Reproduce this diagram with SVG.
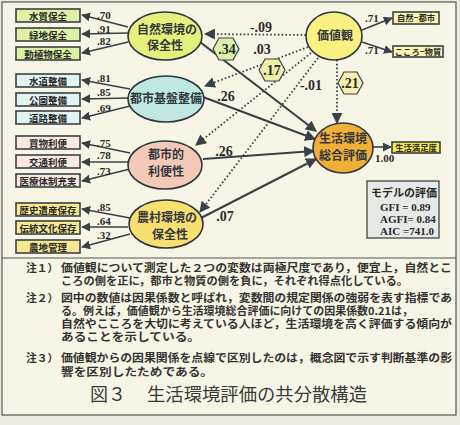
<svg xmlns="http://www.w3.org/2000/svg" width="460" height="425" viewBox="0 0 460 425">
<defs>
<marker id="ah" viewBox="0 0 10 10" refX="9" refY="5" markerWidth="9" markerHeight="9" markerUnits="userSpaceOnUse" orient="auto"><path d="M0,0 L10,5 L0,10 z" fill="#3a4048"/></marker>
<marker id="ahb" viewBox="0 0 10 10" refX="9" refY="5" markerWidth="11" markerHeight="11" markerUnits="userSpaceOnUse" orient="auto"><path d="M0,0 L10,5 L0,10 z" fill="#3a4048"/></marker>
</defs>
<style>
.bx{stroke:#3a4048;stroke-width:1.6}
.bt{font-family:"Noto Sans CJK JP",sans-serif;font-weight:bold;font-size:9.5px;fill:#2a2a2a;text-anchor:middle}
.rt{font-family:"Noto Sans CJK JP",sans-serif;font-weight:bold;font-size:8.3px;fill:#2a2a2a;text-anchor:middle}
.el{stroke:#2e3440;stroke-width:1.6}
.et{font-family:"Noto Sans CJK JP",sans-serif;font-weight:bold;font-size:12px;fill:#333840;text-anchor:middle}
.sl{stroke:#3a4048;stroke-width:1.6;fill:none;marker-end:url(#ah)}
.sb{stroke:#3a4048;stroke-width:2.2;fill:none;marker-end:url(#ahb)}
.dl{stroke:#3a4048;stroke-width:1.8;stroke-dasharray:1.6 2.2;fill:none;marker-end:url(#ahb)}
.n{font-family:"Liberation Serif",serif;font-weight:bold;font-size:11px;fill:#2a2a2a}
.nb{font-family:"Liberation Serif",serif;font-weight:bold;font-size:14px;fill:#2a2a2a;text-anchor:middle}
.hx{stroke:#3a4048;stroke-width:1.2}
.nt{font-family:"Noto Sans CJK JP",sans-serif;font-weight:bold;font-size:10.8px;fill:#333}
.mt{font-family:"Liberation Serif",serif;font-weight:bold;font-size:11px;fill:#2a2a2a}
</style>
<rect x="0" y="0" width="460" height="425" fill="#eeece0"/>
<rect x="2" y="2" width="454" height="413" fill="#f7f5e6" stroke="#555" stroke-width="1.2"/>
<line x1="2" y1="258" x2="456" y2="258" stroke="#555" stroke-width="1.2"/>

<g id="connectors">
<path class="sl" d="M128,27 L82,15"/>
<path class="sl" d="M128,33 L82,34"/>
<path class="sl" d="M128,42 L82,53"/>
<path class="sl" d="M130,89 L82,80"/>
<path class="sl" d="M128,98 L82,99"/>
<path class="sl" d="M130,106 L82,118"/>
<path class="sl" d="M130,153 L82,143"/>
<path class="sl" d="M128,162 L82,162"/>
<path class="sl" d="M130,169 L82,181"/>
<path class="sl" d="M130,218 L82,209"/>
<path class="sl" d="M128,227 L82,227"/>
<path class="sl" d="M130,234 L82,247"/>
<path class="sl" d="M362,30 L392,18"/>
<path class="sl" d="M362,42 L392,52"/>
<path class="sl" d="M373,147 L391,147"/>
<path class="sb" d="M200,42 L316,131"/>
<path class="sb" d="M203,97 L315,139"/>
<path class="sb" d="M203,159 L314,151"/>
<path class="sb" d="M201,218 L316,159"/>
<path class="dl" d="M306,35 L205,34"/>
<path class="dl" d="M308,47 L205,86"/>
<path class="dl" d="M311,53 L196,145"/>
<path class="dl" d="M318,58 L200,212"/>
<path class="dl" d="M337,60 L337,123"/>
<text class="n" x="97" y="19">.70</text>
<text class="n" x="97" y="33">.91</text>
<text class="n" x="97" y="45">.82</text>
<text class="n" x="97" y="82">.81</text>
<text class="n" x="97" y="96">.85</text>
<text class="n" x="97" y="112">.69</text>
<text class="n" x="97" y="147">.75</text>
<text class="n" x="97" y="159">.78</text>
<text class="n" x="97" y="175">.73</text>
<text class="n" x="97" y="211">.85</text>
<text class="n" x="97" y="225">.64</text>
<text class="n" x="97" y="239">.32</text>
<text class="n" x="365" y="22">.71</text>
<text class="n" x="365" y="54">.71</text>
<text class="n" x="375" y="162">1.00</text>
<text class="nb" x="261" y="32">-.09</text>
<text class="nb" x="262" y="54">.03</text>
<text class="nb" x="311" y="90">-.01</text>
<text class="nb" x="226" y="101">.26</text>
<text class="nb" x="224" y="156">.26</text>
<text class="nb" x="225" y="221">.07</text>
</g>

<g id="hex34"><polygon class="hx" fill="#dcefa8" points="213,49 219,38 233,38 239,49 233,60 219,60"/><text class="nb" x="227" y="54">.34</text></g>
<g id="hex17"><polygon class="hx" fill="#eef0a8" points="259,70 265,59 279,59 285,70 279,81 265,81"/><text class="nb" x="272" y="75">.17</text></g>
<g id="hex21"><polygon class="hx" fill="#f8f0b0" points="338,83 344,72 357,72 363,83 357,94 344,94"/><text class="nb" x="350" y="88">.21</text></g>

<g id="b1"><rect class="bx" x="16" y="9" width="64" height="13" fill="#def0a4"/><text class="bt" x="48" y="19.5">水質保全</text></g>
<g id="b2"><rect class="bx" x="16" y="28" width="64" height="13" fill="#def0a4"/><text class="bt" x="48" y="38.5">緑地保全</text></g>
<g id="b3"><rect class="bx" x="16" y="47" width="64" height="13" fill="#def0a4"/><text class="bt" x="48" y="57.5">動植物保全</text></g>
<g id="b4"><rect class="bx" x="16" y="74" width="64" height="13" fill="#e2f4f2"/><text class="bt" x="48" y="84.5">水道整備</text></g>
<g id="b5"><rect class="bx" x="16" y="93" width="64" height="13" fill="#e2f4f2"/><text class="bt" x="48" y="103.5">公園整備</text></g>
<g id="b6"><rect class="bx" x="16" y="111" width="64" height="13" fill="#e2f4f2"/><text class="bt" x="48" y="121.5">道路整備</text></g>
<g id="b7"><rect class="bx" x="16" y="136" width="64" height="13" fill="#fbe8e0"/><text class="bt" x="48" y="146.5">買物利便</text></g>
<g id="b8"><rect class="bx" x="16" y="155" width="64" height="13" fill="#fbe8e0"/><text class="bt" x="48" y="165.5">交通利便</text></g>
<g id="b9"><rect class="bx" x="16" y="174" width="64" height="13" fill="#fbe8e0"/><text class="bt" x="48" y="184.5">医療体制充実</text></g>
<g id="b10"><rect class="bx" x="16" y="203" width="64" height="13" fill="#f8e890"/><text class="bt" x="48" y="213.5">歴史遺産保存</text></g>
<g id="b11"><rect class="bx" x="16" y="221" width="64" height="13" fill="#f8e890"/><text class="bt" x="48" y="231.5">伝統文化保存</text></g>
<g id="b12"><rect class="bx" x="16" y="240" width="64" height="13" fill="#f8e890"/><text class="bt" x="48" y="250.5">農地管理</text></g>
<g id="r1"><rect class="bx" x="393" y="12" width="46" height="12" fill="#fdf7b0"/><text class="rt" x="416" y="21">自然−都市</text></g>
<g id="r2"><rect class="bx" x="393" y="46" width="50" height="11" fill="#fdf7b0"/><text class="rt" x="418" y="54.8">こころ−物質</text></g>
<g id="r3"><rect class="bx" x="392" y="142" width="48" height="11" fill="#f6e840"/><text class="rt" x="416" y="150.8">生活満足度</text></g>

<g id="e1"><ellipse class="el" cx="165" cy="36" rx="37" ry="24" fill="#e6f07c"/><text class="et" x="167" y="34">自然環境の</text><text class="et" x="165" y="50">保全性</text></g>
<g id="e2"><ellipse class="el" cx="166" cy="99" rx="38" ry="23" fill="#bfe8e0"/><text class="et" x="166" y="103">都市基盤整備</text></g>
<g id="e3"><ellipse class="el" cx="165" cy="165" rx="37" ry="24" fill="#f5c9b8"/><text class="et" x="166" y="159">都市的</text><text class="et" x="166" y="176">利便性</text></g>
<g id="e4"><ellipse class="el" cx="166" cy="224" rx="37" ry="24" fill="#f8e070"/><text class="et" x="167" y="222">農村環境の</text><text class="et" x="170" y="239">保全性</text></g>
<g id="e5"><ellipse class="el" cx="334" cy="36" rx="28" ry="24" fill="#f8f080"/><text class="et" x="335" y="40">価値観</text></g>
<g id="e6"><ellipse class="el" cx="343" cy="148" rx="30" ry="25" fill="#f0b038"/><text class="et" x="343" y="143" fill="#5a3a10">生活環境</text><text class="et" x="343" y="160" fill="#5a3a10">総合評価</text></g>

<g id="model"><rect x="367" y="181" width="72" height="57" fill="#e6eae6" stroke="#444" stroke-width="1.3"/>
<text x="371" y="197" font-family="Noto Sans CJK JP,sans-serif" font-weight="bold" font-size="11" fill="#2a2a2a">モデルの評価</text>
<text class="mt" x="380" y="211">GFI  = 0.89</text>
<text class="mt" x="380" y="223">AGFI= 0.84</text>
<text class="mt" x="380" y="235">AIC  =741.0</text></g>

<g id="notes">
<text class="nt" x="26" y="272">注１）</text>
<text class="nt" x="61" y="272" textLength="391" lengthAdjust="spacingAndGlyphs">価値観について測定した２つの変数は両極尺度であり，便宜上，自然とこ</text>
<text class="nt" x="61" y="285" textLength="347" lengthAdjust="spacingAndGlyphs">ころの側を正に，都市と物質の側を負に，それぞれ得点化している。</text>
<text class="nt" x="26" y="302">注２）</text>
<text class="nt" x="61" y="302" textLength="391" lengthAdjust="spacingAndGlyphs">図中の数値は因果係数と呼ばれ，変数間の規定関係の強弱を表す指標であ</text>
<text class="nt" x="61" y="315" textLength="352" lengthAdjust="spacingAndGlyphs">る。例えば，価値観から生活環境総合評価に向けての因果係数0.21は，</text>
<text class="nt" x="61" y="328" textLength="391" lengthAdjust="spacingAndGlyphs">自然やこころを大切に考えている人ほど，生活環境を高く評価する傾向が</text>
<text class="nt" x="61" y="341" textLength="139" lengthAdjust="spacingAndGlyphs">あることを示している。</text>
<text class="nt" x="26" y="362">注３）</text>
<text class="nt" x="61" y="362" textLength="391" lengthAdjust="spacingAndGlyphs">価値観からの因果関係を点線で区別したのは，概念図で示す判断基準の影</text>
<text class="nt" x="61" y="376" textLength="152" lengthAdjust="spacingAndGlyphs">響を区別したためである。</text>
<text x="90" y="401" font-family="Noto Sans CJK JP,sans-serif" font-size="18" fill="#3a3a3a">図３</text>
<text x="147" y="401" font-family="Noto Sans CJK JP,sans-serif" font-size="18" fill="#3a3a3a" textLength="220" lengthAdjust="spacingAndGlyphs">生活環境評価の共分散構造</text>
</g>
</svg>
